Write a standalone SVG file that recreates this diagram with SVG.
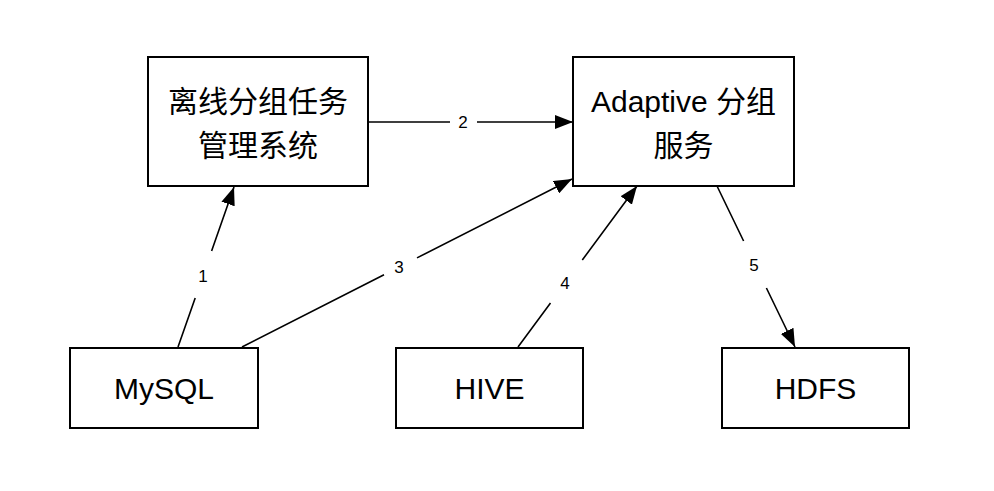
<svg xmlns="http://www.w3.org/2000/svg" width="994" height="491" viewBox="0 0 994 491">
<style>
.box{fill:#fff;stroke:#000;stroke-width:2}
.t{font-family:"Liberation Sans","Noto Sans CJK SC",sans-serif;font-size:30px;fill:#000;text-anchor:middle}
.lbl{font-family:"Liberation Sans",sans-serif;font-size:17px;fill:#000;text-anchor:middle}
.e{fill:none;stroke:#000;stroke-width:1.6}
</style>
<defs>
<marker id="arr" markerUnits="userSpaceOnUse" markerWidth="20" markerHeight="14" refX="18" refY="7" orient="auto" viewBox="0 0 20 14">
<path d="M0,0 L18,7 L0,14 Z" fill="#000"/>
</marker>
</defs>
<rect width="994" height="491" fill="#fff"/>
<g id="connectors">
<path id="e1" class="e" marker-end="url(#arr)" d="M178,347 L195.2,298 M211.6,251 L234,187"/>
<path id="e2" class="e" marker-end="url(#arr)" d="M368,122 L450,122 M477,122 L573,122"/>
<path id="e3" class="e" marker-end="url(#arr)" d="M242,347 L384,274.7 M417,257.9 L572,179"/>
<path id="e4" class="e" marker-end="url(#arr)" d="M518,347 L550.5,303 M582.3,260 L637,186"/>
<path id="e5" class="e" marker-end="url(#arr)" d="M717,186 L743.6,241 M766.4,288 L795,347"/>
<text class="lbl" x="203" y="282">1</text>
<text class="lbl" x="463" y="128">2</text>
<text class="lbl" x="399" y="273">3</text>
<text class="lbl" x="565" y="289">4</text>
<text class="lbl" x="754" y="271">5</text>
</g>
<g id="offline">
<rect class="box" x="148" y="57" width="220" height="129"/>
<text class="t" x="258" y="112">离线分组任务</text>
<text class="t" x="258" y="156">管理系统</text>
</g>
<g id="adaptive">
<rect class="box" x="573" y="57" width="221" height="129"/>
<text class="t" x="683.5" y="112">Adaptive 分组</text>
<text class="t" x="683.5" y="156">服务</text>
</g>
<g id="mysql">
<rect class="box" x="70" y="348" width="188" height="80"/>
<text class="t" x="164" y="399">MySQL</text>
</g>
<g id="hive">
<rect class="box" x="396" y="348" width="187" height="80"/>
<text class="t" x="489.5" y="399">HIVE</text>
</g>
<g id="hdfs">
<rect class="box" x="722" y="348" width="187" height="80"/>
<text class="t" x="815.5" y="399">HDFS</text>
</g>
</svg>
